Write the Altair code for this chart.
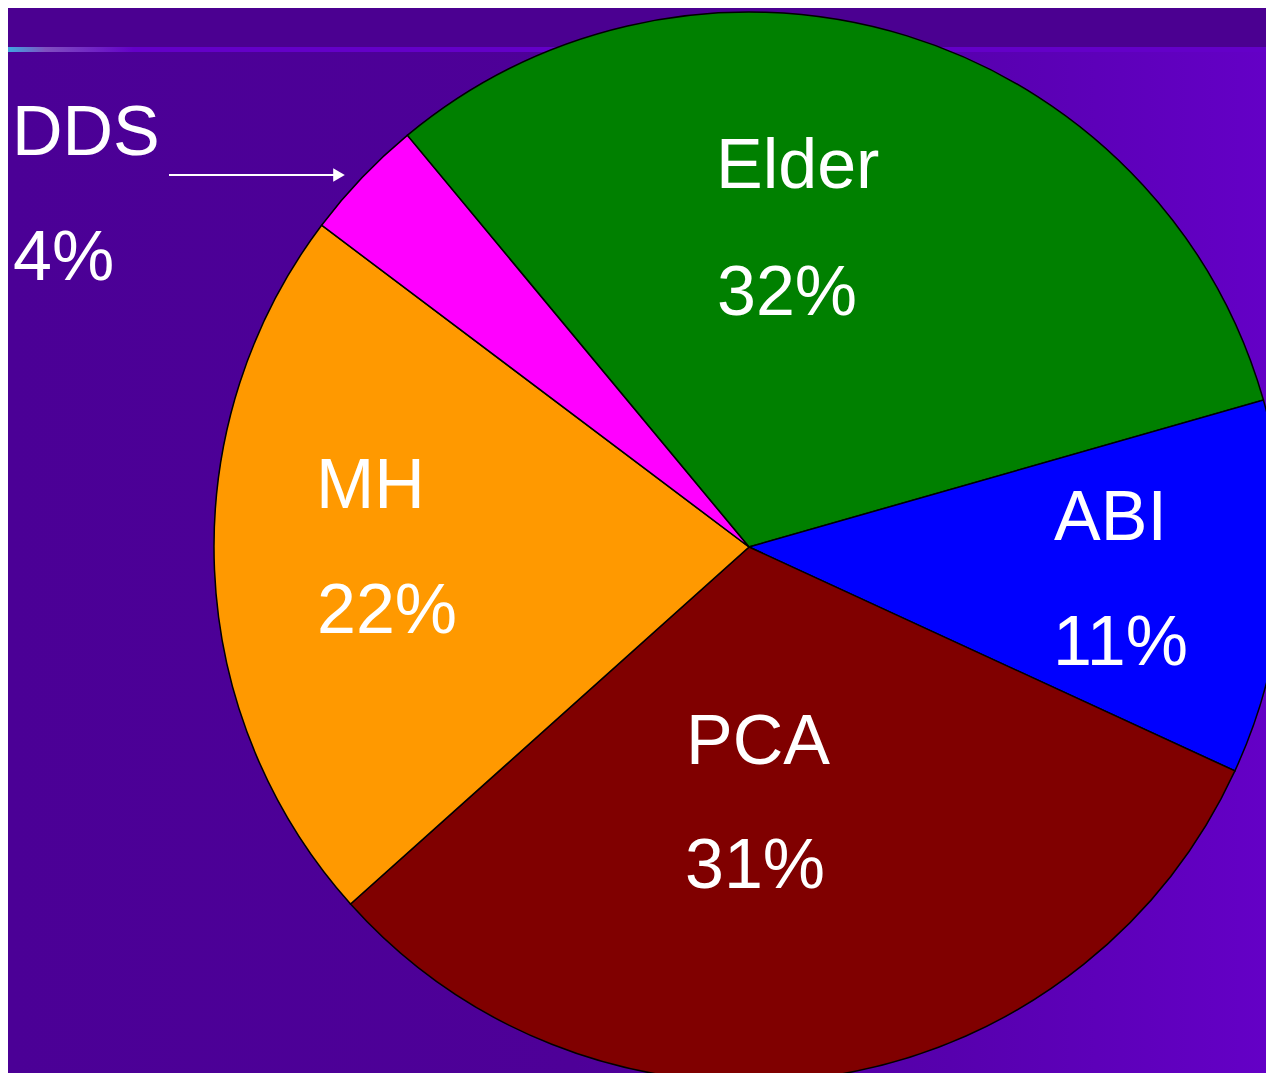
import math
import altair as alt
import pandas as pd

# ---- data ----
categories = ["Elder", "ABI", "PCA", "MH", "DDS"]
shares = [31.6, 11.3, 31.5, 21.9, 3.7]          # measured slice sizes
pct_labels = ["32%", "11%", "31%", "22%", "4%"]  # printed labels
slice_colors = ["#008000", "#0000FF", "#800000", "#FF9900", "#FF00FF"]

# ---- layout (chart coordinates) ----
W, H = 1258, 1065
CX, CY, R = 741, 539, 535
START = math.radians(320.3)
label_order = ["Elder", "DDS", "MH", "ABI", "PCA"]
name_x = [708, 4, 308, 1046, 678]
name_y = [180, 147, 500, 532, 756]
pct_x = [709, 5, 309, 1045, 677]
pct_y = [307, 272, 625, 657, 880]

pie_df = pd.DataFrame({
    "cat": categories,
    "share": shares,
    "idx": list(range(len(categories))),
})

name_df = pd.DataFrame({"t": label_order, "x": name_x, "y": name_y})
pct_map = dict(zip(categories, pct_labels))
pct_df = pd.DataFrame({"t": [pct_map[c] for c in label_order], "x": pct_x, "y": pct_y})

dummy = pd.DataFrame({"a": [0]})

top_band = alt.Chart(dummy).mark_rect(color="#4B0091").encode(
    x=alt.value(0), x2=alt.value(W), y=alt.value(0), y2=alt.value(39)
)

body_grad = alt.LinearGradient(
    gradient="linear",
    stops=[
        alt.GradientStop(color="#4B0096", offset=0),
        alt.GradientStop(color="#4E0098", offset=0.45),
        alt.GradientStop(color="#5700AE", offset=0.75),
        alt.GradientStop(color="#6400C6", offset=1),
    ],
    x1=0, x2=1, y1=0, y2=0,
)
body = alt.Chart(dummy).mark_rect(color=body_grad).encode(
    x=alt.value(0), x2=alt.value(W), y=alt.value(44), y2=alt.value(H)
)

line_grad = alt.LinearGradient(
    gradient="linear",
    stops=[
        alt.GradientStop(color="#40A8E0", offset=0),
        alt.GradientStop(color="#8050C0", offset=0.03),
        alt.GradientStop(color="#6400C8", offset=0.1),
        alt.GradientStop(color="#6400C8", offset=1),
    ],
    x1=0, x2=1, y1=0, y2=0,
)
hline = alt.Chart(dummy).mark_rect(color=line_grad).encode(
    x=alt.value(0), x2=alt.value(W), y=alt.value(39), y2=alt.value(44)
)

pie = alt.Chart(pie_df).mark_arc(radius=R, stroke="black", strokeWidth=1.5).encode(
    theta=alt.Theta("share:Q", stack=True,
                    scale=alt.Scale(domain=[0, 100], range=[START, START + 2 * math.pi])),
    color=alt.Color("cat:N", scale=alt.Scale(domain=categories, range=slice_colors), legend=None),
    order=alt.Order("idx:Q", sort="ascending"),
    x=alt.value(CX),
    y=alt.value(CY),
)

text_style = dict(align="left", baseline="alphabetic", font="Liberation Sans",
                  fontSize=70, color="white")

names = alt.Chart(name_df).mark_text(**text_style).encode(
    x=alt.X("x:Q", scale=None), y=alt.Y("y:Q", scale=None), text="t:N"
)
pcts = alt.Chart(pct_df).mark_text(**text_style).encode(
    x=alt.X("x:Q", scale=None), y=alt.Y("y:Q", scale=None), text="t:N"
)

arrow_line = alt.Chart(dummy).mark_rule(color="white", strokeWidth=2).encode(
    x=alt.value(161), x2=alt.value(330), y=alt.value(167)
)
arrow_head = alt.Chart(dummy).mark_point(
    shape="triangle-right", filled=True, color="white", size=180, opacity=1
).encode(x=alt.value(331), y=alt.value(167))

chart = alt.layer(top_band, body, hline, pie, names, pcts, arrow_line, arrow_head).properties(
    width=W, height=H, padding=0, autosize="none", background="#4B0096"
).configure_view(stroke=None)

chart.save("out.html", embed_options={"renderer": "svg", "actions": False})
